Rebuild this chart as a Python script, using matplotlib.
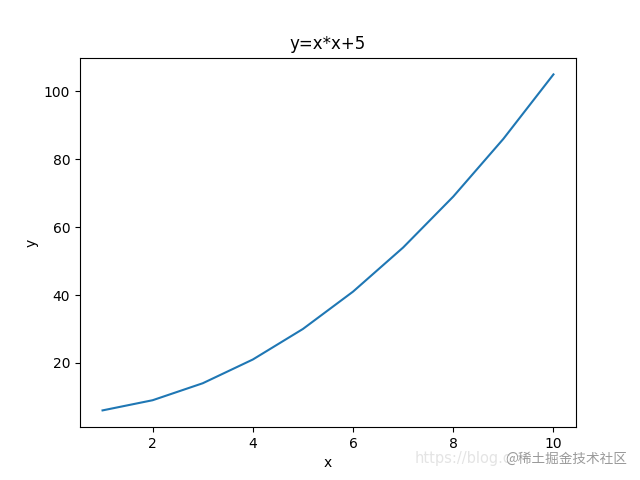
import matplotlib
matplotlib.use('Agg')
from matplotlib import pyplot as plt

x = [1, 2, 3, 4, 5, 6, 7, 8, 9, 10]
y = [6, 9, 14, 21, 30, 41, 54, 69, 86, 105]
title = 'y=x*x+5'
watermark_url = 'https://blog.c'
watermark_site = '@稀土掘金技术社区'

fig, ax = plt.subplots(figsize=(6.4, 4.8), dpi=100)
ax.plot(x, y)
ax.set_title(title)
ax.set_xlabel('x')
ax.set_ylabel('y')

# faint watermark in the lower right corner
fig.text(0.648, 0.035, watermark_url, color='#e4e4e4', fontsize=10.5,
         family=['DejaVu Sans'])
fig.text(0.79, 0.035, watermark_site, color='#9a9a9a', fontsize=9.8,
         family=['Noto Sans CJK SC', 'DejaVu Sans'])

fig.savefig('out.png', dpi=100)
